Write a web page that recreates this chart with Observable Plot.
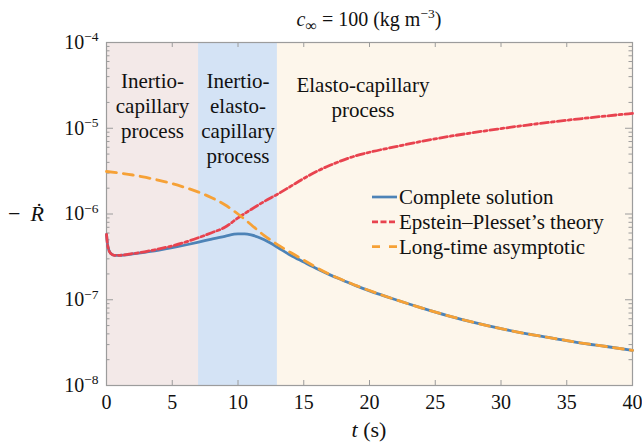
<!DOCTYPE html>
<html>
<head>
<meta charset="utf-8">
<script src="https://cdn.jsdelivr.net/npm/d3@7"></script>
<script src="https://cdn.jsdelivr.net/npm/@observablehq/plot@0.6"></script>
<style>
  html, body { margin: 0; padding: 0; background: #fff; }
  #chart { width: 642px; height: 445px; }
</style>
</head>
<body>
<div id="chart"></div>
<script>
// ---- data -------------------------------------------------------------
// Complete solution: time t (s) and shrinking rate −Ṙ
const tComplete = [0, 0.1, 0.3, 0.6, 1, 2, 3, 4, 5, 6, 7, 8, 9, 10, 10.5, 11, 11.5, 12, 12.5, 13,
  14, 15, 16, 17, 18, 19, 20, 22, 24, 26, 28, 30, 32, 34, 36, 38, 40];
const rComplete = [5.8e-7, 4.2e-7, 3.5e-7, 3.3e-7, 3.3e-7, 3.42e-7, 3.6e-7, 3.8e-7, 4.05e-7, 4.35e-7,
  4.7e-7, 5.1e-7, 5.5e-7, 5.85e-7, 5.85e-7, 5.7e-7, 5.4e-7, 5.0e-7, 4.55e-7, 4.1e-7,
  3.3e-7, 2.75e-7, 2.3e-7, 1.95e-7, 1.68e-7, 1.45e-7, 1.27e-7, 1.0e-7, 8.0e-8, 6.5e-8,
  5.4e-8, 4.6e-8, 4.0e-8, 3.55e-8, 3.15e-8, 2.85e-8, 2.57e-8];

// Epstein–Plesset's theory
const tEpstein = [0, 0.1, 0.3, 0.6, 1, 2, 3, 4, 5, 6, 7, 8, 9, 10, 11, 12, 13, 14, 15, 16, 17,
  18, 19, 20, 22, 24, 26, 28, 30, 32, 34, 36, 38, 40];
const rEpstein = [5.8e-7, 4.2e-7, 3.5e-7, 3.3e-7, 3.3e-7, 3.45e-7, 3.65e-7, 3.92e-7, 4.25e-7, 4.7e-7,
  5.3e-7, 6.05e-7, 7.0e-7, 9.0e-7, 1.13e-6, 1.4e-6, 1.7e-6, 2.1e-6, 2.6e-6, 3.15e-6, 3.7e-6,
  4.25e-6, 4.8e-6, 5.25e-6, 6.1e-6, 7.05e-6, 8.0e-6, 8.95e-6, 9.9e-6, 1.09e-5, 1.19e-5,
  1.29e-5, 1.39e-5, 1.49e-5];

// Long-time asymptotic
const tAsym = [0, 1, 2, 3, 4, 5, 6, 7, 8, 9, 10, 11, 12, 13, 14, 15, 16, 17, 18, 19, 20,
  22, 24, 26, 28, 30, 32, 34, 36, 38, 40];
const rAsym = [3.13e-6, 3.0e-6, 2.85e-6, 2.67e-6, 2.47e-6, 2.26e-6, 2.03e-6, 1.8e-6, 1.55e-6, 1.28e-6,
  1.0e-6, 7.5e-7, 5.6e-7, 4.4e-7, 3.55e-7, 2.9e-7, 2.36e-7, 1.97e-7, 1.69e-7, 1.46e-7, 1.28e-7,
  1.0e-7, 8.0e-8, 6.5e-8, 5.4e-8, 4.6e-8, 4.0e-8, 3.55e-8, 3.15e-8, 2.85e-8, 2.57e-8];

// Process regimes along t
const regimeFrom = [0, 7, 13];
const regimeTo = [7, 13, 40];
const regimeName = ["Inertio-\ncapillary\nprocess", "Inertio-\nelasto-\ncapillary\nprocess", "Elasto-capillary\nprocess"];
const regimeLabelT = [3.5, 10, 19.5];

// Axis ticks
const xTicks = [0, 5, 10, 15, 20, 25, 30, 35, 40];
const yTicks = [1e-8, 1e-7, 1e-6, 1e-5, 1e-4];
const yTickExp = ["−8", "−7", "−6", "−5", "−4"];

const seriesNames = ["Complete solution", "Epstein–Plesset’s theory", "Long-time asymptotic"];

// ---- styling ------------------------------------------------------------
const serif = '"Liberation Serif", "Times New Roman", Times, serif';
const regimeColors = ["#f3e9e8", "#d4e3f5", "#fdf6eb"];
const blue = "#4d83b7", red = "#e8434f", orange = "#f6a136", gray = "#9c9c9c", ink = "#111";
const W = 642, H = 445;
const M = {top: 42, right: 10, bottom: 60, left: 106};
const frameW = W - M.left - M.right, frameH = H - M.top - M.bottom;

const rows = (ts, vs) => ts.map((t, i) => ({t, v: vs[i]}));
const regimes = regimeFrom.map((a, i) => ({from: a, to: regimeTo[i], name: regimeName[i], at: regimeLabelT[i], fill: regimeColors[i]}));

// minor log ticks 2..9 within each decade
const yMinor = [];
for (let i = 0; i < yTicks.length - 1; i++) for (let k = 2; k <= 9; k++) yMinor.push(k * yTicks[i]);

const chart = Plot.plot({
  width: W, height: H,
  marginTop: M.top, marginRight: M.right, marginBottom: M.bottom, marginLeft: M.left,
  style: {fontFamily: serif, fontSize: "20px", color: ink, background: "#fff"},
  x: {domain: [0, 40]},
  y: {type: "log", domain: [1e-8, 1e-4]},
  marks: [
    Plot.rect(regimes, {x1: "from", x2: "to", fill: "fill"}),
    // inward ticks on all four sides
    Plot.tickX(xTicks, {x: d => d, insetTop: frameH - 5, stroke: gray}),
    Plot.tickX(xTicks, {x: d => d, insetBottom: frameH - 5, stroke: gray}),
    Plot.tickY(yTicks, {y: d => d, insetRight: frameW - 7, stroke: gray}),
    Plot.tickY(yTicks, {y: d => d, insetLeft: frameW - 7, stroke: gray}),
    Plot.tickY(yMinor, {y: d => d, insetRight: frameW - 3.5, stroke: gray}),
    Plot.tickY(yMinor, {y: d => d, insetLeft: frameW - 3.5, stroke: gray}),
    Plot.frame({stroke: gray, strokeWidth: 1.2}),
    // regime labels
    Plot.text(regimes.slice(0, 2), {x: "at", text: "name", frameAnchor: "top", dy: 27.5, lineAnchor: "top",
      lineHeight: 1.2, fontSize: 21, fontFamily: serif, fill: ink}),
    Plot.text(regimes.slice(2), {x: "at", text: "name", frameAnchor: "top", dy: 31.5, lineAnchor: "top",
      lineHeight: 1.2, fontSize: 21, fontFamily: serif, fill: ink}),
    // curves
    Plot.line(rows(tComplete, rComplete), {x: "t", y: "v", stroke: blue, strokeWidth: 2.8, curve: "monotone-x"}),
    Plot.line(rows(tEpstein, rEpstein), {x: "t", y: "v", stroke: red, strokeWidth: 2.8, curve: "monotone-x",
      strokeDasharray: "8,3,3,3"}),
    Plot.line(rows(tAsym, rAsym), {x: "t", y: "v", stroke: orange, strokeWidth: 2.8, curve: "monotone-x",
      strokeDasharray: "10,7"}),
    // axes
    Plot.axisX(xTicks, {tickSize: 0, tickPadding: 9, fontSize: 20, fontFamily: serif, fill: ink, label: null}),
    Plot.axisY(yTicks, {tickSize: 0, tickPadding: 8, fontSize: 20, fontFamily: serif, fill: ink, label: null,
      tickFormat: d => "10^" + yTickExp[yTicks.indexOf(d)]})
  ]
});
document.getElementById("chart").append(chart);

const svg = d3.select(chart);

// powers of ten with raised exponents
svg.selectAll('g[aria-label="y-axis tick label"] text').each(function () {
  const parts = this.textContent.split("^");
  const t = d3.select(this);
  t.text(null);
  t.append("tspan").text(parts[0]);
  t.append("tspan").attr("font-size", 13.5).attr("dy", "-0.55em").text(parts[1]);
});

const xr = chart.scale("x").range;
const cx = (xr[0] + xr[1]) / 2;

// title: c∞ = 100 (kg m−3)
const title = svg.append("text").attr("x", cx).attr("y", 26).attr("text-anchor", "middle")
  .attr("font-size", 20).attr("font-family", serif).attr("fill", ink);
title.append("tspan").attr("font-style", "italic").text("c");
title.append("tspan").attr("font-size", 16).attr("dy", 5).text("∞");
title.append("tspan").attr("dy", -5).text(" = 100 (kg m");
title.append("tspan").attr("font-size", 13.5).attr("dy", -8).text("−3");
title.append("tspan").attr("dy", 8).text(")");

// axis titles
const xlab = svg.append("text").attr("x", cx).attr("y", 437).attr("text-anchor", "middle")
  .attr("font-size", 22).attr("font-family", serif).attr("fill", ink);
xlab.append("tspan").attr("font-style", "italic").text("t");
xlab.append("tspan").text(" (s)");

const ylab = svg.append("text").attr("x", 8).attr("y", 221).attr("text-anchor", "start")
  .attr("font-size", 22).attr("font-family", serif).attr("fill", ink);
ylab.append("tspan").text("−");
ylab.append("tspan").attr("dx", 10).attr("font-style", "italic").text("Ṙ");

// legend
const legendStyles = [
  {stroke: blue, dash: null},
  {stroke: red, dash: "6,2.5"},
  {stroke: orange, dash: "8,9"}
];
const lg = svg.append("g").attr("transform", "translate(372,197)");
seriesNames.forEach((name, i) => {
  const row = lg.append("g").attr("transform", `translate(0,${i * 24.8})`);
  row.append("line").attr("x1", 0).attr("x2", 25).attr("y1", 0).attr("y2", 0)
    .attr("stroke", legendStyles[i].stroke).attr("stroke-width", 2.7)
    .attr("stroke-dasharray", legendStyles[i].dash);
  row.append("text").attr("x", 27).attr("dy", "0.33em").attr("text-anchor", "start").attr("font-size", 21)
    .attr("font-family", serif).attr("fill", ink).text(name);
});
</script>
</body>
</html>
